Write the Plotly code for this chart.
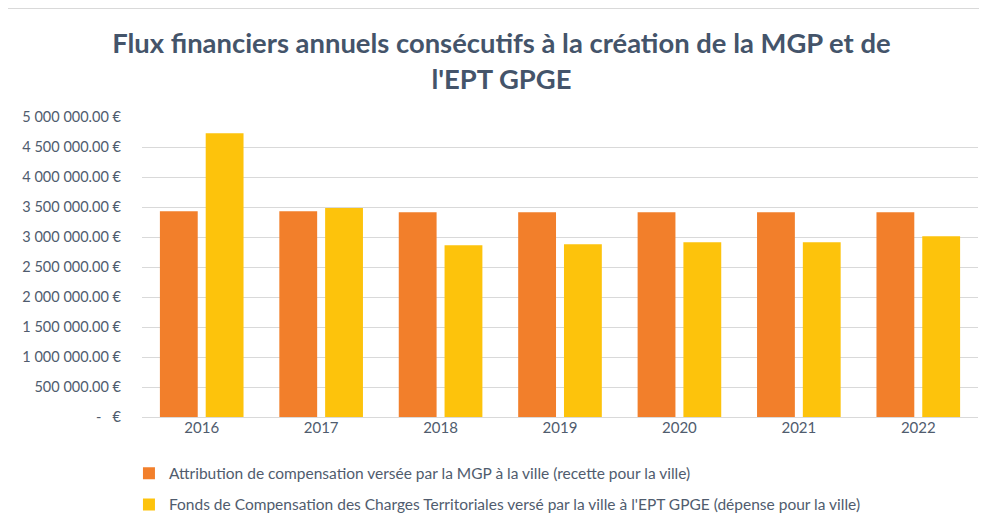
import plotly.graph_objects as go

years = ["2016", "2017", "2018", "2019", "2020", "2021", "2022"]
attribution = [3428000, 3428000, 3411000, 3411000, 3411000, 3411000, 3411000]
fcct = [4728000, 3483000, 2861000, 2878000, 2911000, 2911000, 3011000]
tick_vals = [0, 500000, 1000000, 1500000, 2000000, 2500000, 3000000, 3500000, 4000000, 4500000, 5000000]
tick_text = ["-   €", "500 000.00 €", "1 000 000.00 €", "1 500 000.00 €", "2 000 000.00 €",
             "2 500 000.00 €", "3 000 000.00 €", "3 500 000.00 €", "4 000 000.00 €",
             "4 500 000.00 €", "5 000 000.00 €"]
name_a = "Attribution de compensation versée par la MGP à la ville (recette pour la ville)"
name_b = "Fonds de Compensation des Charges Territoriales versé par la ville à l'EPT GPGE (dépense pour la ville)"

FONT = "Lato, Calibri, sans-serif"
GREY = "#505C6E"

fig = go.Figure()
fig.add_trace(go.Bar(x=years, y=attribution, name=name_a, legendgroup="a",
                     marker=dict(color="#F27F2B", line=dict(width=0))))
fig.add_trace(go.Bar(x=years, y=fcct, name=name_b, legendgroup="b",
                     marker=dict(color="#FDC30C", line=dict(width=0))))

fig.update_layout(
    width=979, height=518,
    margin=dict(l=134, r=9, t=109, b=109),
    paper_bgcolor="white", plot_bgcolor="white",
    barmode="group", bargap=0.233, bargroupgap=0.174,
    font=dict(family=FONT, color=GREY, size=14),
    title=dict(text="Flux financiers annuels consécutifs à la création de la MGP et de<br>l'EPT GPGE",
               x=0.504, xref="container", xanchor="center",
               y=0.913, yref="container", yanchor="middle",
               font=dict(family=FONT, size=27.4, color="#44546A", weight="bold")),
    xaxis=dict(showgrid=False, showline=False, ticks="", automargin=False,
               tickfont=dict(size=15, color=GREY)),
    yaxis=dict(range=[0, 5000000], tickvals=tick_vals, ticktext=tick_text, automargin=False,
               showgrid=True, gridcolor="#D9D9D9", gridwidth=1, zeroline=True,
               zerolinecolor="#D9D9D9", zerolinewidth=1, ticks="", ticklabelstandoff=20,
               tickfont=dict(size=14.5, color=GREY)),
    showlegend=True,
    legend=dict(orientation="v", x=-0.0156, xanchor="left",
                y=0.1338, yref="container", yanchor="top",
                tracegroupgap=8, font=dict(size=15.5, color=GREY),
                itemwidth=30, bgcolor="rgba(0,0,0,0)"),
    shapes=[dict(type="rect", xref="paper", yref="paper",
                 x0=(7.5 - 142) / 836, x1=1.2, y0=-0.6, y1=1 + (117 - 8.5) / 300,
                 line=dict(color="#D9D9D9", width=1), fillcolor="rgba(0,0,0,0)", layer="below")],
)

fig.write_html("out.html")
